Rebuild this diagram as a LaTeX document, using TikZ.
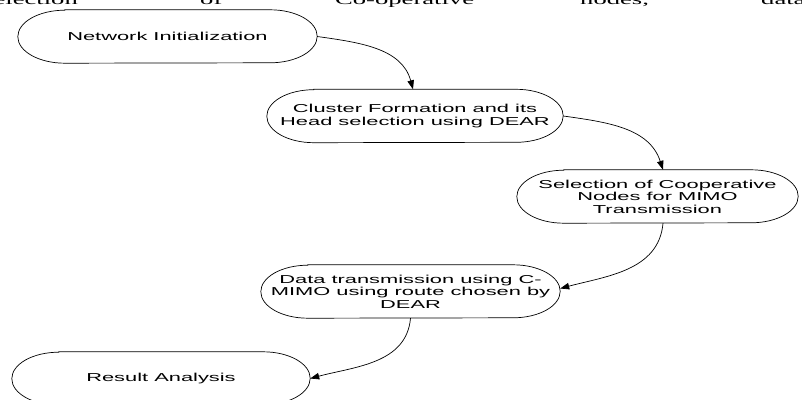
\documentclass[tikz,border=0pt]{standalone}
\usepackage{fontspec}
\setmainfont[FakeStretch=1.9]{Liberation Sans}
\newfontfamily\paperfont[FakeStretch=1.9]{Liberation Serif}
\usetikzlibrary{arrows.meta}
\tikzset{
  stage/.style={draw=none, minimum width=#1, minimum height=53pt, inner sep=0pt,
    align=center, font=\fontsize{11.5}{12.5}\selectfont},
  capline/.style={line width=0.7pt, black},
  link/.style={line width=0.7pt, -{Triangle[length=9pt,width=6.5pt]}},
  papertext/.style={inner sep=0pt, font=\paperfont\fontsize{14}{16}\selectfont}
}
\newcommand\capsuleshape[1]{%
  \draw[capline] ([xshift=47pt]#1.north west) -- ([xshift=-47pt]#1.north east)
    arc[start angle=90,end angle=-90,x radius=47pt,y radius=26.5pt]
    -- ([xshift=47pt]#1.south west)
    arc[start angle=270,end angle=90,x radius=47pt,y radius=26.5pt] -- cycle;}
\begin{document}
\begin{tikzpicture}[x=1pt,y=1pt]
\useasboundingbox (0,0) rectangle (802,399);
\begin{scope}
\clip (0,0) rectangle (802,399);
% cut-off paper text at the top
\node[papertext, anchor=base east] (w1) at (78,394) {selection};
\node[papertext, anchor=base west] (w2) at (200,394) {of};
\node[papertext, anchor=base west] (w3) at (335,394) {Co-operative};
\node[papertext, anchor=base west] (w4) at (580,394) {nodes,};
\node[papertext, anchor=base west] (w5) at (761,394) {data};

\node[stage=299pt] (n1) at (167.5,362.5) {Network Initialization};
\node[stage=296pt] (n2) at (415,283) {Cluster Formation and its\\Head selection using DEAR};
\node[stage=281pt] (n3) at (657.5,202.5) {Selection of Cooperative\\Nodes for MIMO\\Transmission};
\node[stage=299pt] (n4) at (410.5,107.5) {Data transmission using C-\\MIMO using route chosen by\\DEAR};
\node[stage=298pt] (n5) at (161,20.5) {Result Analysis};

\capsuleshape{n1}
\capsuleshape{n2}
\capsuleshape{n3}
\capsuleshape{n4}
\capsuleshape{n5}

\draw[link] (n1.east) to[out=-8,in=105] ([xshift=-2pt]n2.north);
\draw[link] (n2.east) to[out=-8,in=108] ([xshift=5.5pt]n3.north);
\draw[link] ([xshift=5.5pt]n3.south) to[out=-95,in=15] ([yshift=3pt]n4.east);
\draw[link] (n4.south) to[out=-95,in=15] (n5.east);
\end{scope}
\end{tikzpicture}
\end{document}
